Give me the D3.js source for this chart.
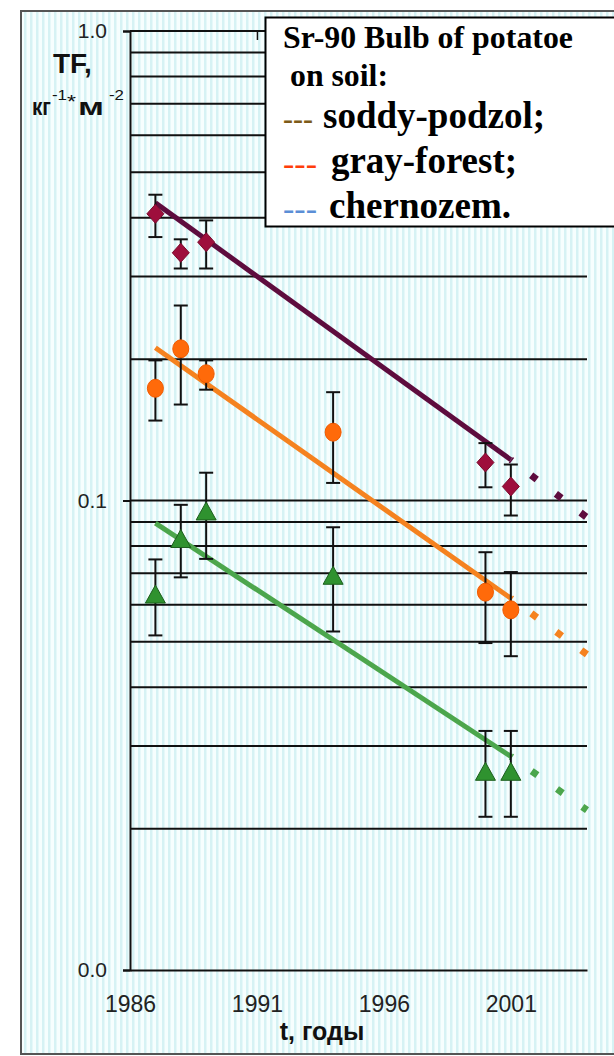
<!DOCTYPE html>
<html>
<head>
<meta charset="utf-8">
<script src="https://cdn.jsdelivr.net/npm/d3@7"></script>
<style>
  html, body { margin: 0; padding: 0; background: #ffffff; }
  svg { display: block; }
</style>
</head>
<body>
<svg id="chart" width="614" height="1056"></svg>
<script>
// Sr-90 transfer factor (TF) to potato bulbs, by soil type
const soddyYears = [1987, 1988, 1989, 2000, 2001];
const soddyTF    = [0.408, 0.337, 0.355, 0.1205, 0.1071];
const soddyLow   = [0.364, 0.312, 0.312, 0.1067, 0.0929];
const soddyHigh  = [0.448, 0.360, 0.395, 0.1325, 0.1193];

const forestYears = [1987, 1988, 1989, 1994, 2000, 2001];
const forestTF    = [0.1734, 0.2104, 0.1862, 0.1398, 0.0638, 0.0585];
const forestLow   = [0.148, 0.1601, 0.1722, 0.109, 0.0497, 0.0466];
const forestHigh  = [0.1988, 0.2602, 0.1988, 0.1701, 0.0776, 0.0704];

const chernYears = [1987, 1988, 1989, 1994, 2000, 2001];
const chernTF    = [0.0632, 0.0830, 0.0950, 0.0693, 0.0265, 0.0265];
const chernLow   = [0.0516, 0.0686, 0.0751, 0.0526, 0.0212, 0.0212];
const chernHigh  = [0.0749, 0.0979, 0.1146, 0.0877, 0.0323, 0.0323];

// exponential trend (straight on log axis) and its forecast
const trendYears    = [1987, 2001];
const forecastYears = [2001, 2004];
const soddyTrend     = [0.4305, 0.1221];
const soddyForecast  = [0.1221, 0.092];
const forestTrend    = [0.2116, 0.0619];
const forestForecast = [0.0619, 0.0470];
const chernTrend     = [0.0895, 0.0285];
const chernForecast  = [0.0285, 0.0219];

const xTickYears = [1986, 1991, 1996, 2001];
const yTickValues = [0.01, 0.1, 1];
const gridValues = [0.02, 0.03, 0.04, 0.05, 0.06, 0.07, 0.08, 0.09,
                    0.1, 0.2, 0.3, 0.4, 0.5, 0.6, 0.7, 0.8, 0.9, 1];

const legendTitle = ["Sr-90 Bulb of potatoe", "on soil:"];
const legendItems = ["soddy-podzol;", "gray-forest;", "chernozem."];

const svg = d3.select("#chart");
const defs = svg.append("defs");
const pat = defs.append("pattern").attr("id", "stripes")
  .attr("width", 6).attr("height", 10).attr("patternUnits", "userSpaceOnUse");
pat.append("rect").attr("width", 6).attr("height", 10).attr("fill", "#f6fefe");
pat.append("rect").attr("width", 2.5).attr("height", 10).attr("fill", "#d6f2f4");

// framed striped panel
svg.append("rect").attr("x", 21).attr("y", 11).attr("width", 600).attr("height", 1043)
  .attr("fill", "url(#stripes)").attr("stroke", "#555").attr("stroke-width", 2);

const x = d3.scaleLinear().domain([1986, 2004]).range([130, 587]);
const y = d3.scaleLog().domain([0.01, 1]).range([970, 31]);

const sans = "'Liberation Sans', Arial, sans-serif";
const serif = "'Liberation Serif', 'Times New Roman', serif";

// horizontal grid
svg.append("g").selectAll("line").data(gridValues).join("line")
  .attr("x1", x(1986)).attr("x2", x(2004))
  .attr("y1", d => y(d)).attr("y2", d => y(d))
  .attr("stroke", "#111").attr("stroke-width", 2);

// y axis
const yAxis = svg.append("g").attr("transform", `translate(${x(1986)},0)`)
  .call(d3.axisLeft(y).tickValues(yTickValues).tickFormat(d3.format(".1f")).tickSize(7).tickPadding(16));
yAxis.select(".domain").attr("stroke", "#111").attr("stroke-width", 2);
yAxis.selectAll(".tick line").attr("stroke", "#111").attr("stroke-width", 2);
yAxis.selectAll(".tick text").attr("font-family", sans).attr("font-size", 21)
  .attr("fill", "#222");

// x axis
const xAxis = svg.append("g").attr("transform", `translate(0,${y(0.01)})`)
  .call(d3.axisBottom(x).tickValues(xTickYears).tickFormat(d3.format("d")).tickSize(0).tickPadding(26));
xAxis.select(".domain").attr("stroke", "#111").attr("stroke-width", 2);
xAxis.selectAll(".tick text").attr("font-family", sans).attr("font-size", 23)
  .attr("fill", "#222");

// inner ticks along the top gridline
const topAxis = svg.append("g").attr("transform", `translate(0,${y(1)})`)
  .call(d3.axisBottom(x).tickValues(xTickYears.slice(1)).tickFormat("").tickSize(9));
topAxis.select(".domain").remove();
topAxis.selectAll(".tick line").attr("stroke", "#111").attr("stroke-width", 1.5);

// axis titles
svg.append("text").attr("x", 53).attr("y", 73).attr("font-family", sans)
  .attr("font-weight", "bold").attr("font-size", 28).attr("fill", "#111").text("TF,");
const unitParts = [
  { t: "кг", x: 32, y: 115, size: 23, w: 19, bold: true },
  { t: "-1", x: 52, y: 100, size: 15, w: 15, bold: false },
  { t: "*", x: 67, y: 108, size: 19, w: 9, bold: false },
  { t: "м", x: 78, y: 115, size: 24, w: 26, bold: true },
  { t: "-2", x: 109, y: 100, size: 15, w: 15, bold: false }
];
unitParts.forEach(p => {
  svg.append("text").attr("x", p.x).attr("y", p.y).attr("font-family", sans)
    .attr("font-weight", p.bold ? "bold" : "normal").attr("font-size", p.size)
    .attr("textLength", p.w).attr("lengthAdjust", "spacingAndGlyphs")
    .attr("fill", "#111").text(p.t);
});

svg.append("text").attr("x", 322).attr("y", 1040).attr("text-anchor", "middle")
  .attr("font-family", sans).attr("font-weight", "bold").attr("font-size", 25)
  .attr("fill", "#111").text("t, годы");

// series drawing helpers
const line = d3.line().x(d => x(d[0])).y(d => y(d[1]));
function drawTrend(years, vals, fyears, fvals, color, width) {
  svg.append("path").attr("d", line(d3.zip(years, vals)))
    .attr("fill", "none").attr("stroke", color).attr("stroke-width", width);
  svg.append("path").attr("d", line(d3.zip(fyears, fvals)))
    .attr("fill", "none").attr("stroke", color).attr("stroke-width", width + 2)
    .attr("stroke-dasharray", "7,24").attr("stroke-dashoffset", 5.5);
}
function drawErrors(years, low, high) {
  const g = svg.append("g").attr("stroke", "#111").attr("stroke-width", 2);
  years.forEach((yr, i) => {
    const cx = x(yr);
    g.append("line").attr("x1", cx).attr("x2", cx).attr("y1", y(high[i])).attr("y2", y(low[i]));
    g.append("line").attr("x1", cx - 7).attr("x2", cx + 7).attr("y1", y(high[i])).attr("y2", y(high[i]));
    g.append("line").attr("x1", cx - 7).attr("x2", cx + 7).attr("y1", y(low[i])).attr("y2", y(low[i]));
  });
}
const diamond = "M0,-9.5L8.5,0L0,9.5L-8.5,0Z";
const triangle = "M0,-9L10,9L-10,9Z";

// trend lines first, error bars and markers on top
drawTrend(trendYears, soddyTrend, forecastYears, soddyForecast, "#5e0c3e", 5);
drawTrend(trendYears, forestTrend, forecastYears, forestForecast, "#f5821f", 5);
drawTrend(trendYears, chernTrend, forecastYears, chernForecast, "#4ca64c", 5);

drawErrors(soddyYears, soddyLow, soddyHigh);
drawErrors(forestYears, forestLow, forestHigh);
drawErrors(chernYears, chernLow, chernHigh);

svg.append("g").selectAll("path").data(d3.zip(soddyYears, soddyTF)).join("path")
  .attr("transform", d => `translate(${x(d[0])},${y(d[1])})`)
  .attr("d", diamond).attr("fill", "#9e0e3c").attr("stroke", "#7a0a2c").attr("stroke-width", 1);
svg.append("g").selectAll("ellipse").data(d3.zip(forestYears, forestTF)).join("ellipse")
  .attr("cx", d => x(d[0])).attr("cy", d => y(d[1])).attr("rx", 8).attr("ry", 9)
  .attr("fill", "#ff6a0a").attr("stroke", "#f05a00").attr("stroke-width", 1);
svg.append("g").selectAll("path").data(d3.zip(chernYears, chernTF)).join("path")
  .attr("transform", d => `translate(${x(d[0])},${y(d[1])})`)
  .attr("d", triangle).attr("fill", "#2f922f").attr("stroke", "#1d5e1d").attr("stroke-width", 1);

// legend
const lg = svg.append("g");
lg.append("rect").attr("x", 265.5).attr("y", 17.5).attr("width", 360).attr("height", 209)
  .attr("fill", "#fff").attr("stroke", "#000").attr("stroke-width", 2);
lg.append("text").attr("x", 283).attr("y", 48).attr("font-family", serif).attr("font-weight", "bold")
  .attr("font-size", 31).attr("textLength", 290).attr("lengthAdjust", "spacingAndGlyphs")
  .attr("fill", "#000").text(legendTitle[0]);
lg.append("text").attr("x", 290).attr("y", 86).attr("font-family", serif).attr("font-weight", "bold")
  .attr("font-size", 31).attr("textLength", 98).attr("lengthAdjust", "spacingAndGlyphs")
  .attr("fill", "#000").text(legendTitle[1]);
const itemColors = ["#7d5a1a", "#ff3d0a", "#5b8ed6"];
const itemBase = [128, 173, 218];
const itemX = [323, 331, 329];
const itemW = [222, 186, 182];
legendItems.forEach((t, i) => {
  lg.append("text").attr("x", 283).attr("y", itemBase[i] + 1).attr("font-family", serif)
    .attr("font-weight", "bold").attr("font-size", 30).attr("textLength", i === 0 ? 30 : 34)
    .attr("lengthAdjust", "spacingAndGlyphs").attr("fill", itemColors[i]).text("---");
  lg.append("text").attr("x", itemX[i]).attr("y", itemBase[i]).attr("font-family", serif)
    .attr("font-weight", "bold").attr("font-size", 38).attr("textLength", itemW[i])
    .attr("lengthAdjust", "spacingAndGlyphs").attr("fill", "#000").text(t);
});
</script>
</body>
</html>
